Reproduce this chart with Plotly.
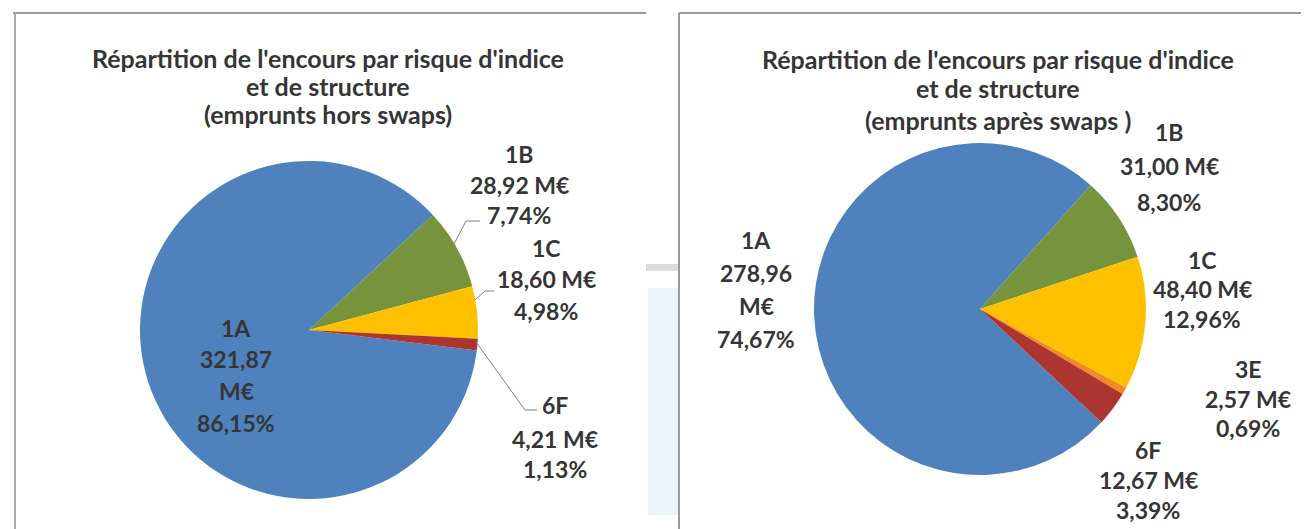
import plotly.graph_objects as go

W, H = 1309, 529

# ---------------- data ----------------
left_title = ["Répartition de l'encours par risque d'indice", "et de structure", "(emprunts hors swaps)"]
right_title = ["Répartition de l'encours par risque d'indice", "et de structure", "(emprunts après swaps )"]

left_labels = ["1A", "1B", "1C", "6F"]
left_values = [321.87, 28.92, 18.60, 4.21]
left_colors = ["#4F81BD", "#77933C", "#FFC000", "#AC3530"]

right_labels = ["1A", "1B", "1C", "3E", "6F"]
right_values = [278.96, 31.00, 48.40, 2.57, 12.67]
right_colors = ["#4F81BD", "#77933C", "#FFC000", "#F08A24", "#AC3530"]

# ---------------- layout helpers ----------------
def px(x):
    return x / W

def py(y):
    return 1 - y / H

def fr(v, d=2):
    return f"{v:.{d}f}".replace(".", ",")

FONT = "Lato, 'Open Sans', sans-serif"
TXT = "#353535"
TITLE_SIZE = 25
LABEL_SIZE = 23

# label placement (pixel centres of each text line)
left_label_pos = {
    "1A": (228, [320, 351, 383, 415], True),
    "1B": (511, [146, 177, 207], False),
    "1C": (538, [240, 271, 303], False),
    "6F": (547, [397, 431, 461], False),
}
right_label_pos = {
    "1A": (748, [232, 265, 298, 331], True),
    "1B": (1161, [124, 158, 194], False),
    "1C": (1194, [252, 281, 311], False),
    "3E": (1240, [361, 391, 420], False),
    "6F": (1140, [442, 472, 502], False),
}

def label_lines(name, value, total, split_unit):
    pct = fr(100 * value / total) + "%"
    if split_unit:
        return [name, fr(value), "M€", pct]
    return [name, fr(value) + " M€", pct]

fig = go.Figure()

fig.add_trace(go.Pie(
    labels=left_labels, values=left_values, sort=False, direction="clockwise",
    rotation=97, marker=dict(colors=left_colors, line=dict(width=0)),
    textinfo="none", hoverinfo="label+value+percent", showlegend=False,
    domain=dict(x=[px(132), px(470)], y=[py(491), py(153)]),
))
fig.add_trace(go.Pie(
    labels=right_labels, values=right_values, sort=False, direction="clockwise",
    rotation=133, marker=dict(colors=right_colors, line=dict(width=0)),
    textinfo="none", hoverinfo="label+value+percent", showlegend=False,
    domain=dict(x=[px(806), px(1138)], y=[py(467), py(135)]),
))

annotations = []

def add_text(x, y, text, size):
    annotations.append(dict(
        x=px(x), y=py(y), xref="paper", yref="paper", text=f"<b>{text}</b>",
        showarrow=False, xanchor="center", yanchor="middle",
        font=dict(family=FONT, size=size, color=TXT),
    ))

for line, y in zip(left_title, [50, 78, 106]):
    add_text(320, y, line, TITLE_SIZE)
for line, y in zip(right_title, [51, 80, 112]):
    add_text(990, y, line, TITLE_SIZE)

for labels, values, pos in [(left_labels, left_values, left_label_pos),
                            (right_labels, right_values, right_label_pos)]:
    total = sum(values)
    for name, v in zip(labels, values):
        x, ys, split = pos[name]
        for line, y in zip(label_lines(name, v, total, split), ys):
            add_text(x, y, line, LABEL_SIZE)

shapes = []

def line_shape(pts, color, width):
    path = "M " + " L ".join(f"{px(x)},{py(y)}" for x, y in pts)
    shapes.append(dict(type="path", path=path, xref="paper", yref="paper",
                       line=dict(color=color, width=width)))

def rect(x0, y0, x1, y1, fill):
    shapes.append(dict(type="rect", xref="paper", yref="paper",
                       x0=px(x0), x1=px(x1), y0=py(y1), y1=py(y0),
                       fillcolor=fill, line=dict(width=0), layer="below"))

# frames of the two scanned charts
rect(638, 256, 671, 263, "#DCDCDC")
rect(640, 280, 671, 507, "#EAF4FB")
rect(638, 523, 671, 529, "#DCDCDC")
line_shape([(5, 5), (638, 5)], "#9A9A9A", 2)
line_shape([(7, 5), (7, 529)], "#ABABAB", 2)
line_shape([(671, 5), (1309, 5)], "#9A9A9A", 2)
line_shape([(671, 5), (671, 529)], "#9A9A9A", 2)

# leader lines (left chart)
line_shape([(445, 238), (458, 213), (472, 213)], "#7F7F7F", 1)
line_shape([(467, 292), (477, 283), (486, 283)], "#7F7F7F", 1)
line_shape([(468, 334), (517, 402), (529, 402)], "#7F7F7F", 1)

fig.update_layout(
    width=W, height=H, margin=dict(l=0, r=0, t=0, b=0),
    paper_bgcolor="white", plot_bgcolor="white",
    annotations=annotations, shapes=shapes, showlegend=False,
)

fig.write_html("out.html")
